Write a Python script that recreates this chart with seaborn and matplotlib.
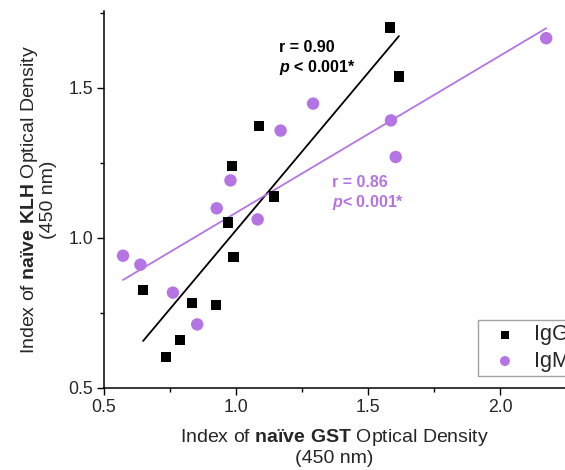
import matplotlib
matplotlib.use("Agg")
import matplotlib.pyplot as plt
import seaborn as sns
import pandas as pd
from matplotlib.ticker import MultipleLocator

# ---- data ----
igg_x = [1.583, 1.617, 1.088, 0.986, 1.143, 0.970, 0.991, 0.648, 0.833, 0.925, 0.787, 0.734]
igg_y = [1.702, 1.538, 1.373, 1.241, 1.138, 1.052, 0.936, 0.827, 0.783, 0.777, 0.660, 0.603]
igm_x = [2.175, 1.292, 1.169, 1.587, 1.605, 0.979, 0.927, 1.082, 0.572, 0.638, 0.761, 0.853]
igm_y = [1.666, 1.448, 1.358, 1.392, 1.270, 1.192, 1.099, 1.062, 0.941, 0.911, 0.818, 0.712]
series = ["IgG", "IgM"]
igg_stats = ["r = 0.90", "$p$ < 0.001*"]
igm_stats = ["r = 0.86", "$p$< 0.001*"]
x_ticks = [0.5, 1.0, 1.5, 2.0]
y_ticks = [0.5, 1.0, 1.5]

sns.set_style("ticks")
plt.rcParams["font.family"] = ["Liberation Sans", "DejaVu Sans"]
plt.rcParams["mathtext.fontset"] = "custom"
plt.rcParams["mathtext.rm"] = "Liberation Sans"
plt.rcParams["mathtext.bf"] = "Liberation Sans:bold"
plt.rcParams["mathtext.it"] = "Liberation Sans:italic:bold"

BLACK = "#000000"
PURPLE = "#B574E3"

df_g = pd.DataFrame({"x": igg_x, "y": igg_y})
df_m = pd.DataFrame({"x": igm_x, "y": igm_y})

fig = plt.figure(figsize=(5.65, 4.7), dpi=100)
ax = fig.add_axes([104 / 565, 1 - 388 / 470, 1 - 104 / 565, (388 - 11) / 470])

sns.regplot(data=df_g, x="x", y="y", scatter=False, ci=None, ax=ax,
            line_kws=dict(color=BLACK, lw=1.3), truncate=True)
sns.regplot(data=df_m, x="x", y="y", scatter=False, ci=None, ax=ax,
            line_kws=dict(color=PURPLE, lw=1.3), truncate=True)
sns.scatterplot(data=df_g, x="x", y="y", marker="s", s=55, color=BLACK,
                edgecolor="none", label=series[0], ax=ax, zorder=3)
sns.scatterplot(data=df_m, x="x", y="y", marker="o", s=80, color=PURPLE,
                edgecolor="none", label=series[1], ax=ax, zorder=3)

ax.set_xlim(0.5, 0.5 + (565 - 104) / 264)
ax.set_ylim(0.5, 0.5 + (388 - 11) / 300)
ax.set_xticks(x_ticks)
ax.set_yticks(y_ticks)
ax.xaxis.set_minor_locator(MultipleLocator(0.25))
ax.yaxis.set_minor_locator(MultipleLocator(0.25))
ax.tick_params(which="major", length=5, width=1, labelsize=12.7, pad=3, color="black")
ax.tick_params(which="minor", length=3, width=1, color="black")
for s in ["left", "bottom"]:
    ax.spines[s].set_color("black")
    ax.spines[s].set_linewidth(1.1)
sns.despine(ax=ax)

ax.set_xlabel("Index of $\\mathbf{naïve\\ GST}$ Optical Density\n(450 nm)",
              fontsize=14, labelpad=8, linespacing=1.1)
ax.set_ylabel("Index of $\\mathbf{naïve\\ KLH}$ Optical Density\n(450 nm)",
              fontsize=14, labelpad=8, linespacing=1.0)

ax.text(1.163, 1.660, "\n".join(igg_stats), color=BLACK, fontsize=11.5,
        fontweight="bold", va="top", ha="left", linespacing=1.25)
ax.text(1.364, 1.210, "\n".join(igm_stats), color=PURPLE, fontsize=11.5,
        fontweight="bold", va="top", ha="left", linespacing=1.25)

leg = ax.legend(loc="upper left", bbox_to_anchor=(478 / 565, 1 - 320 / 470),
                bbox_transform=fig.transFigure, borderaxespad=0, fontsize=15.5,
                frameon=True, fancybox=False, edgecolor="#8a8a8a",
                labelspacing=0.25, borderpad=0.2, handlelength=2.1,
                handletextpad=0.3, markerscale=0.8)
leg.get_frame().set_linewidth(1.0)

fig.savefig("out.png", dpi=100)
